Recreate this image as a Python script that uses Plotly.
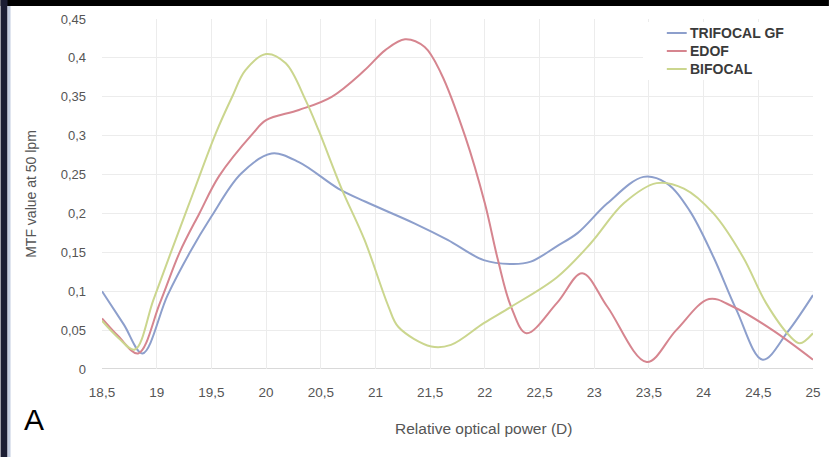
import plotly.graph_objects as go

# ---- data ----
tri_x = [18.5, 18.7, 18.87, 19.1, 19.3, 19.5, 19.77, 20.05, 20.3, 20.66, 20.91, 21.36, 21.66,
         21.99, 22.26, 22.42, 22.66, 22.85, 23.12, 23.45, 23.66, 23.87, 24.09, 24.3, 24.54, 24.77, 25.0]
tri_y = [0.10, 0.057, 0.02, 0.095, 0.149, 0.196, 0.251, 0.277, 0.266, 0.232, 0.215, 0.187, 0.166,
         0.140, 0.135, 0.138, 0.158, 0.175, 0.213, 0.247, 0.239, 0.204, 0.144, 0.076, 0.012, 0.048, 0.095]

edof_x = [18.5, 18.65, 18.83, 19.03, 19.21, 19.39, 19.57, 19.88, 20.0, 20.3, 20.6, 20.9, 21.09, 21.27,
          21.45, 21.6, 21.82, 22.0, 22.12, 22.24, 22.38, 22.66, 22.89, 23.12, 23.48, 23.75, 24.05,
          24.27, 24.63, 25.0]
edof_y = [0.065, 0.042, 0.02, 0.085, 0.15, 0.2, 0.248, 0.303, 0.32, 0.333, 0.35, 0.384, 0.41, 0.424,
          0.414, 0.38, 0.299, 0.213, 0.14, 0.08, 0.046, 0.085, 0.123, 0.08, 0.009, 0.05, 0.09,
          0.08, 0.05, 0.012]

bif_x = [18.5, 18.65, 18.8, 18.97, 19.13, 19.33, 19.54, 19.69, 19.81, 20.0, 20.18, 20.36, 20.48, 20.69,
         20.9, 21.12, 21.21, 21.51, 21.69, 21.99, 22.24, 22.66, 22.97, 23.27, 23.57, 23.82, 24.09,
         24.36, 24.57, 24.79, 24.88, 25.0]
bif_y = [0.062, 0.04, 0.025, 0.089, 0.15, 0.225, 0.303, 0.35, 0.384, 0.405, 0.393, 0.346, 0.307, 0.232,
         0.166, 0.08, 0.054, 0.029, 0.031, 0.059, 0.08, 0.118, 0.162, 0.213, 0.239, 0.232, 0.2,
         0.144, 0.085, 0.042, 0.033, 0.046]

x_tickvals = [18.5, 19, 19.5, 20, 20.5, 21, 21.5, 22, 22.5, 23, 23.5, 24, 24.5, 25]
x_ticktext = ["18,5", "19", "19,5", "20", "20,5", "21", "21,5", "22", "22,5", "23", "23,5", "24", "24,5", "25"]
y_tickvals = [0, 0.05, 0.1, 0.15, 0.2, 0.25, 0.3, 0.35, 0.4, 0.45]
y_ticktext = ["0", "0,05", "0,1", "0,15", "0,2", "0,25", "0,3", "0,35", "0,4", "0,45"]

series_names = ["TRIFOCAL GF", "EDOF", "BIFOCAL"]
series_x = [tri_x, edof_x, bif_x]
series_y = [tri_y, edof_y, bif_y]
series_colors = ["#8d9fcc", "#d6858f", "#cbd68e"]

FONT = "Liberation Sans, Arial, sans-serif"
TXT = "#555555"

W, H = 833, 457
L, R, T, B = 102, 16, 19, 88
pw, ph = W - L - R, H - T - B

def px(xp):
    return (xp - L) / pw

def py(yp):
    return (H - B - yp) / ph

fig = go.Figure()
for name, xs, ys, col in zip(series_names, series_x, series_y, series_colors):
    fig.add_trace(go.Scatter(x=xs, y=ys, name=name, mode="lines",
                             line=dict(color=col, width=2, shape="spline", smoothing=1.0)))

shapes = [
    # baseline at 0
    dict(type="line", xref="paper", yref="y", x0=0, x1=1, y0=0, y1=0,
         line=dict(color="#d9d9d9", width=2), layer="below"),
    # legend background box
    dict(type="rect", xref="paper", yref="paper", x0=px(646), x1=1, y0=py(80), y1=py(22),
         fillcolor="white", line=dict(width=0), layer="above"),
    # frame borders from the photo
    dict(type="rect", xref="paper", yref="paper", x0=px(0), x1=px(W), y0=py(6), y1=py(-2),
         fillcolor="black", line=dict(width=0), layer="above"),
    dict(type="rect", xref="paper", yref="paper", x0=px(0), x1=px(7), y0=py(H), y1=py(0),
         fillcolor="#1b1d33", line=dict(width=0)),
    dict(type="rect", xref="paper", yref="paper", x0=px(7), x1=px(10), y0=py(H), y1=py(6),
         fillcolor="#c3cde0", line=dict(width=0)),
]
annotations = [
    dict(text="Relative optical power (D)", xref="paper", yref="paper",
         x=px(486), y=py(428), showarrow=False, xanchor="center", yanchor="middle",
         font=dict(family=FONT, size=15.5, color=TXT)),
    dict(text="A", xref="paper", yref="paper", x=px(34), y=py(419), showarrow=False,
         font=dict(family=FONT, size=30, color="black"),
         xanchor="center", yanchor="middle"),
]

# legend entries (Excel-style, compact)
leg_y = [33, 51, 69]
for name, col, ly in zip(series_names, series_colors, leg_y):
    shapes.append(dict(type="line", xref="paper", yref="paper",
                       x0=px(670), x1=px(690), y0=py(ly), y1=py(ly),
                       line=dict(color=col, width=2), layer="above"))
    annotations.append(dict(text="<b>%s</b>" % name, xref="paper", yref="paper",
                            x=px(691), y=py(ly), showarrow=False,
                            xanchor="left", yanchor="middle",
                            font=dict(family=FONT, size=14, color="#3a3a3a")))

fig.update_layout(
    width=W, height=H,
    margin=dict(l=L, r=R, t=T, b=B),
    paper_bgcolor="white", plot_bgcolor="white",
    font=dict(family=FONT, size=13, color=TXT),
    showlegend=False,
    xaxis=dict(range=[18.5, 25], tickvals=x_tickvals, ticktext=x_ticktext,
               showgrid=True, gridcolor="#ececec", gridwidth=1, zeroline=False,
               showline=False, ticks="", ticklabelstandoff=13,
               tickfont=dict(size=13.5, color=TXT)),
    yaxis=dict(range=[0, 0.45], tickvals=y_tickvals, ticktext=y_ticktext,
               showgrid=True, gridcolor="#ececec", gridwidth=1, zeroline=False,
               showline=False, ticks="", ticklabelstandoff=15,
               tickfont=dict(size=13, color=TXT),
               title=dict(text="MTF value at 50 lpm", standoff=20,
                          font=dict(size=14, color=TXT))),
    shapes=shapes,
    annotations=annotations,
)

fig.write_html("out.html", config={"displayModeBar": False},
               post_script=("document.body.style.margin='0';"
                            "document.body.style.overflow='hidden';"
                            "document.documentElement.style.overflow='hidden';"))
